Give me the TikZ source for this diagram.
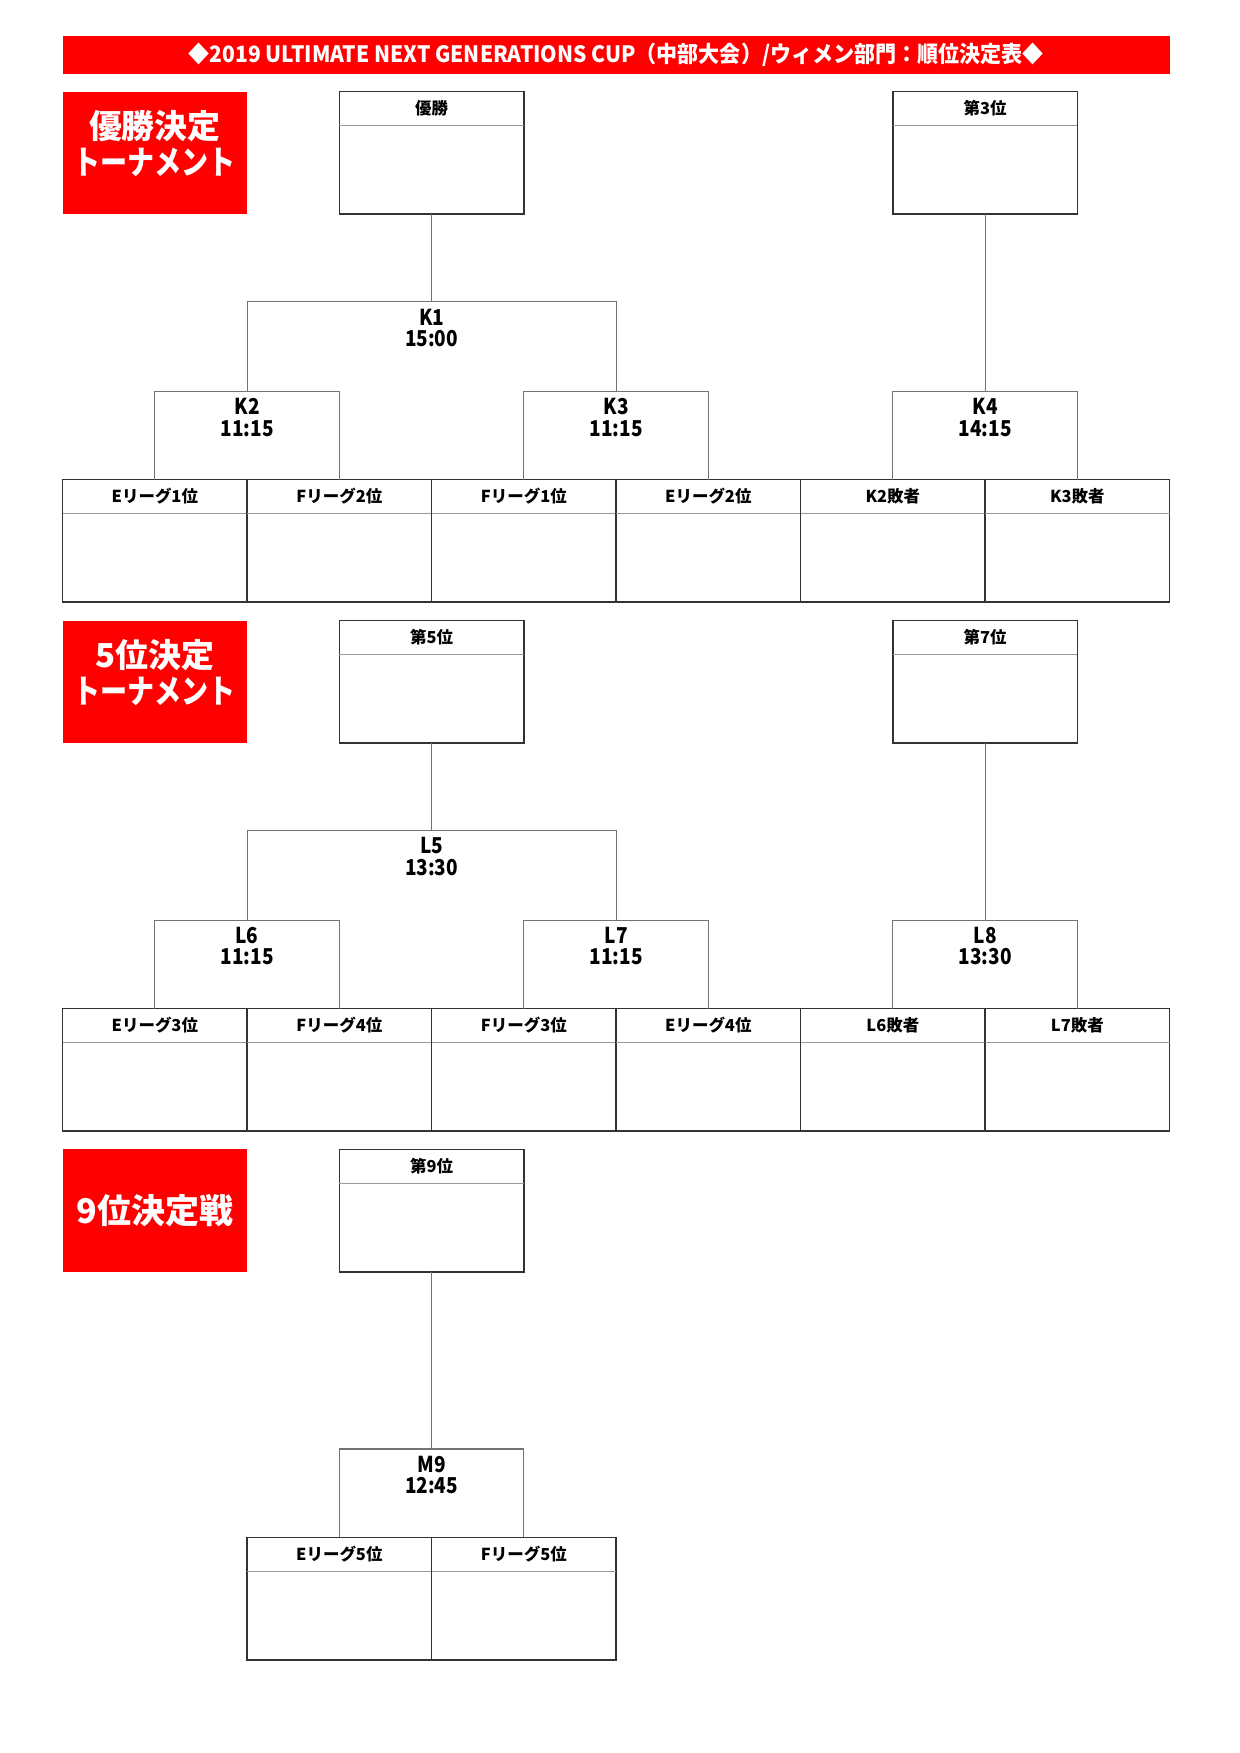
\documentclass[tikz,border=0pt]{standalone}
\usepackage{fontspec}
\setmainfont{Noto Sans CJK JP}
\newfontfamily\narrowjp{Noto Sans CJK JP}[FakeStretch=0.87]
\usepackage{graphicx}
\newcommand\pxu{0.48pt}
\newcommand\topbox[4]{%
  \node[frame, anchor=north] (#1) at (#2,#3) {};
  \draw[hdr] ([yshift=-34*\pxu]#1.north west) -- ([yshift=-34*\pxu]#1.north east);
  \node[lbl] (#1-t) at ([yshift=-16.5*\pxu]#1.north) {#4};
}
\begin{document}
\begin{tikzpicture}[x=0.48pt,y=-0.48pt,
  frame/.style={draw=black!80, line width=0.75pt, outer sep=0pt, inner sep=0pt,
    minimum width=184.5*\pxu, minimum height=122.5*\pxu},
  hdr/.style={draw=black!40, line width=0.5pt},
  br/.style={draw=black!55, line width=0.5pt},
  redbox/.style={fill=red, draw=none, inner sep=0pt, outer sep=0pt,
    minimum width=184.5*\pxu, minimum height=122.5*\pxu},
  redtxt/.style={text=white, font=\fontsize{15.8}{17.1}\selectfont\bfseries, align=center, inner sep=0pt},
  lbl/.style={font=\fontsize{7.9}{8}\selectfont\bfseries, inner sep=0pt},
  match/.style={font=\narrowjp\fontsize{10.5}{10.4}\selectfont\bfseries, align=center,
    inner xsep=0pt, inner ysep=6.5*\pxu, anchor=north},
]
\useasboundingbox (0,0) rectangle (1240,1753);
\fill[white] (0,0) rectangle (1240,1753);

% title
\node[fill=red, minimum width=1107*\pxu, minimum height=38*\pxu, inner sep=0pt, outer sep=0pt,
  text=white, font=\fontsize{10.8}{11}\selectfont\bfseries] (title) at (616.1,54.8)
  {\resizebox{410.4pt}{\height}{◆2019 ULTIMATE NEXT GENERATIONS CUP（中部大会）/ウィメン部門：順位決定表◆}};

% ---------- section 1 ----------
\node[redbox, anchor=north] (r1) at (154.85,91.7) {};
\node[redtxt] (r1-t) at (154.85,143.5) {優勝決定\\\resizebox{77.8pt}{\height}{トーナメント}};
\topbox{win}{431.6}{91.7}{優勝}
\topbox{third}{985.1}{91.7}{第3位}
\node[match] (K1) at (431.6,301.9) {K1\\15:00};
\node[match] (K2) at (247.1,391.3) {K2\\11:15};
\node[match] (K3) at (616.1,391.3) {K3\\11:15};
\node[match] (K4) at (985.1,391.3) {K4\\14:15};
\topbox{a1}{154.85}{479.7}{Eリーグ1位}
\topbox{a2}{339.35}{479.7}{Fリーグ2位}
\topbox{a3}{523.85}{479.7}{Fリーグ1位}
\topbox{a4}{708.35}{479.7}{Eリーグ2位}
\topbox{a5}{892.85}{479.7}{K2敗者}
\topbox{a6}{1077.35}{479.7}{K3敗者}
\draw[br] (win.south) -- (K1.north);
\draw[br] (K2.north) |- (K1.north) -| (K3.north);
\draw[br] (a1.north) |- (K2.north) -| (a2.north);
\draw[br] (a3.north) |- (K3.north) -| (a4.north);
\draw[br] (third.south) -- (K4.north);
\draw[br] (a5.north) |- (K4.north) -| (a6.north);

% ---------- section 2 ----------
\node[redbox, anchor=north] (r2) at (154.85,620.5) {};
\node[redtxt] (r2-t) at (154.85,672.3) {5位決定\\\resizebox{77.8pt}{\height}{トーナメント}};
\topbox{fifth}{431.6}{620.5}{第5位}
\topbox{seventh}{985.1}{620.5}{第7位}
\node[match] (L5) at (431.6,830.7) {L5\\13:30};
\node[match] (L6) at (247.1,920.1) {L6\\11:15};
\node[match] (L7) at (616.1,920.1) {L7\\11:15};
\node[match] (L8) at (985.1,920.1) {L8\\13:30};
\topbox{b1}{154.85}{1008.5}{Eリーグ3位}
\topbox{b2}{339.35}{1008.5}{Fリーグ4位}
\topbox{b3}{523.85}{1008.5}{Fリーグ3位}
\topbox{b4}{708.35}{1008.5}{Eリーグ4位}
\topbox{b5}{892.85}{1008.5}{L6敗者}
\topbox{b6}{1077.35}{1008.5}{L7敗者}
\draw[br] (fifth.south) -- (L5.north);
\draw[br] (L6.north) |- (L5.north) -| (L7.north);
\draw[br] (b1.north) |- (L6.north) -| (b2.north);
\draw[br] (b3.north) |- (L7.north) -| (b4.north);
\draw[br] (seventh.south) -- (L8.north);
\draw[br] (b5.north) |- (L8.north) -| (b6.north);

% ---------- section 3 ----------
\node[redbox, anchor=north] (r3) at (154.85,1149.4) {};
\node[redtxt, font=\fontsize{16.3}{17}\selectfont\bfseries] (r3-t) at (154.85,1211) {9位決定戦};
\topbox{ninth}{431.6}{1149.4}{第9位}
\node[match] (M9) at (431.6,1449) {M9\\12:45};
\topbox{c1}{339.35}{1537.4}{Eリーグ5位}
\topbox{c2}{523.85}{1537.4}{Fリーグ5位}
\draw[br] (ninth.south) -- (M9.north);
\draw[br] (c1.north) |- (M9.north) -| (c2.north);
\end{tikzpicture}
\end{document}
